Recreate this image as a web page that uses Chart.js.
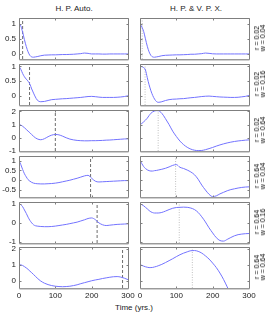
<!DOCTYPE html>
<html><head><meta charset="utf-8">
<script src="https://cdn.jsdelivr.net/npm/chart.js@4.4.1/dist/chart.umd.min.js"></script>
<style>
html,body{margin:0;padding:0;background:#fff;}
body{width:269px;height:314px;position:relative;overflow:hidden;font-family:'Liberation Sans',Arial,sans-serif;color:#222;}
.txt{position:absolute;font-size:8px;white-space:nowrap;line-height:1;color:#222;transform:translate(-50%,-50%);}
.side{position:absolute;font-size:7px;line-height:6px;white-space:pre;text-align:center;color:#000;transform:translate(-50%,-50%) rotate(-90deg);}
canvas{position:absolute;}
</style></head><body>
<div class="txt" style="left:74px;top:9px">H. P. Auto.</div>
<div class="txt" style="left:196px;top:9px">H. P. &amp; V. P. X.</div>
<div class="txt" style="left:134px;top:308px">Time (yrs.)</div>
<script>
// ---- data ----
const times = [0,5,10,15,20,25,30,35,40,45,50,60,70,80,90,100,110,120,130,140,150,160,170,180,190,200,210,220,230,240,250,260,270,280,290,300];

const autoR02W04 = [1.0,0.93,0.72,0.47,0.24,0.06,-0.06,-0.11,-0.12,-0.11,-0.1,-0.07,-0.05,-0.045,-0.04,-0.04,-0.035,-0.03,-0.03,-0.025,-0.02,-0.01,0.0,0.02,0.01,-0.01,-0.01,-0.01,-0.015,-0.015,-0.01,-0.01,-0.01,-0.01,-0.01,-0.01];
const autoR02W16 = [1.0,0.9,0.76,0.65,0.57,0.5,0.4,0.24,0.1,-0.03,-0.13,-0.19,-0.18,-0.15,-0.12,-0.11,-0.1,-0.09,-0.085,-0.075,-0.065,-0.055,-0.045,-0.03,-0.015,-0.01,-0.02,-0.035,-0.045,-0.045,-0.045,-0.045,-0.04,-0.03,-0.015,0.01];
const autoR02W64 = [1.0,0.96,0.87,0.76,0.63,0.5,0.38,0.24,0.11,0.0,-0.08,-0.15,-0.07,0.08,0.2,0.25,0.22,0.12,0.0,-0.1,-0.16,-0.2,-0.22,-0.23,-0.23,-0.22,-0.22,-0.21,-0.2,-0.18,-0.17,-0.15,-0.13,-0.11,-0.09,-0.08];
const autoR64W04 = [1.0,0.8,0.55,0.33,0.17,0.03,-0.05,-0.11,-0.15,-0.17,-0.18,-0.19,-0.19,-0.18,-0.17,-0.15,-0.12,-0.08,-0.04,0.0,0.05,0.1,0.16,0.22,0.25,0.1,-0.05,-0.09,-0.08,-0.07,-0.06,-0.05,-0.04,-0.03,-0.02,-0.02];
const autoR64W16 = [1.0,0.96,0.85,0.68,0.5,0.3,0.13,0.0,-0.1,-0.15,-0.17,-0.19,-0.2,-0.2,-0.19,-0.17,-0.14,-0.11,-0.08,-0.04,0.0,0.04,0.1,0.16,0.23,0.26,0.17,0.0,-0.1,-0.14,-0.12,-0.1,-0.08,-0.07,-0.06,-0.05];
const autoR64W64 = [1.0,0.99,0.95,0.88,0.8,0.71,0.6,0.5,0.39,0.28,0.17,-0.02,-0.15,-0.24,-0.3,-0.34,-0.36,-0.37,-0.36,-0.34,-0.3,-0.25,-0.18,-0.12,-0.06,0.0,0.05,0.09,0.14,0.18,0.22,0.25,0.26,0.23,0.16,0.07];

const xcorrR02W04 = [1.0,0.9,0.75,0.5,0.25,0.06,-0.06,-0.11,-0.12,-0.11,-0.1,-0.07,-0.055,-0.05,-0.045,-0.04,-0.04,-0.035,-0.03,-0.02,-0.02,-0.01,0.0,0.02,0.01,-0.005,-0.01,-0.01,-0.01,-0.01,-0.01,-0.01,-0.01,-0.01,-0.01,-0.01];
const xcorrR02W16 = [1.0,0.99,0.96,0.88,0.62,0.38,0.18,0.02,-0.1,-0.18,-0.21,-0.19,-0.15,-0.12,-0.105,-0.1,-0.09,-0.085,-0.07,-0.055,-0.045,-0.03,-0.015,-0.005,0.0,-0.01,-0.02,-0.03,-0.035,-0.04,-0.045,-0.045,-0.04,-0.025,-0.01,0.02];
const xcorrR02W64 = [1.0,1.08,1.2,1.33,1.48,1.68,1.85,1.96,2.02,2.05,2.05,1.85,1.45,1.0,0.5,0.1,-0.25,-0.52,-0.72,-0.86,-0.94,-0.97,-0.96,-0.9,-0.82,-0.73,-0.63,-0.54,-0.46,-0.39,-0.33,-0.28,-0.24,-0.21,-0.18,-0.16];
const xcorrR64W04 = [1.0,0.85,0.7,0.6,0.53,0.49,0.47,0.47,0.49,0.5,0.52,0.56,0.61,0.68,0.76,0.8,0.66,0.6,0.52,0.42,0.28,0.05,-0.25,-0.5,-0.72,-0.84,-0.8,-0.7,-0.62,-0.54,-0.48,-0.44,-0.4,-0.37,-0.35,-0.34];
const xcorrR64W16 = [1.0,0.96,0.9,0.82,0.74,0.65,0.58,0.54,0.52,0.52,0.52,0.55,0.62,0.7,0.77,0.81,0.82,0.83,0.82,0.78,0.7,0.55,0.32,0.05,-0.26,-0.53,-0.78,-0.93,-0.96,-0.87,-0.77,-0.68,-0.62,-0.59,-0.57,-0.56];
const xcorrR64W64 = [1.0,0.96,0.91,0.87,0.84,0.82,0.82,0.83,0.86,0.89,0.93,1.02,1.13,1.25,1.37,1.5,1.62,1.72,1.8,1.87,1.88,1.83,1.72,1.55,1.35,1.1,0.82,0.48,0.08,-0.38,-0.85,-1.3,-1.75,-2.2,-2.6,-3.0];

const autoMarkers = [10, 29, 100, 197, 215, 285];
const xcorrMarkers = [6, 14, 50, 98, 108, 144];

const rLabels = ['0.02','0.02','0.02','0.64','0.64','0.64'];
const wLabels = ['0.04','0.16','0.64','0.04','0.16','0.64'];

const yMin = [-0.18, -0.3, -1, -0.86, -1.06, -0.45];
const yMax = [1.2, 1.08, 2.1, 1.24, 1.1, 2.1];
const yTicks = [[0,0.5,1],[0,0.5,1],[-1,0,1,2],[-0.5,0,0.5,1],[-1,0,1],[0,1,2]];
const xTicksStep = 100;

// ---- layout ----
const autoSeries = [autoR02W04, autoR02W16, autoR02W64, autoR64W04, autoR64W16, autoR64W64];
const xcorrSeries = [xcorrR02W04, xcorrR02W16, xcorrR02W64, xcorrR64W04, xcorrR64W16, xcorrR64W64];
const plotTop = [18, 64, 110, 156, 202, 247];
const plotH = 41;

Chart.defaults.font.family = "'Liberation Sans', Arial, sans-serif";
Chart.defaults.font.size = 8;
Chart.defaults.color = '#222';

const framePlugin = {
  id: 'frame',
  afterDraw(chart) {
    const {ctx, chartArea: a, scales: {x, y}} = chart;
    const L = Math.round(a.left) + 0.5, R = Math.round(a.right) + 0.5;
    const T = Math.round(a.top) + 0.5, B = Math.round(a.bottom) + 0.5;
    ctx.save();
    ctx.lineWidth = 1;
    ctx.strokeStyle = '#7f7f7f';
    ctx.beginPath();
    x.ticks.forEach(t => {
      const px = Math.round(x.getPixelForValue(t.value)) + 0.5;
      ctx.moveTo(px, T); ctx.lineTo(px, T + 2);
      ctx.moveTo(px, B); ctx.lineTo(px, B - 2);
    });
    y.ticks.forEach(t => {
      const py = Math.round(y.getPixelForValue(t.value)) + 0.5;
      ctx.moveTo(L, py); ctx.lineTo(L + 2, py);
      ctx.moveTo(R, py); ctx.lineTo(R - 2, py);
    });
    ctx.stroke();
    ctx.beginPath();
    ctx.moveTo(L, B); ctx.lineTo(L, T); ctx.lineTo(R, T); ctx.lineTo(R, B);
    ctx.stroke();
    ctx.strokeStyle = '#9a9a9a';
    ctx.beginPath(); ctx.moveTo(L, B); ctx.lineTo(R, B); ctx.stroke();
    ctx.strokeStyle = '#d0d0d0';
    ctx.beginPath(); ctx.moveTo(L, B + 1); ctx.lineTo(R, B + 1); ctx.stroke();
    ctx.restore();
  }
};

function makePanel(r, c) {
  const bottomRow = r === 5;
  const padTop = 6;
  const xh = bottomRow ? 16 : 3;
  const W = c === 0 ? 136 : 128;
  const yw = c === 0 ? 19 : 10;
  const padRight = c === 0 ? 8 : 9;
  const left = c === 0 ? 0 : 130;
  const H = padTop + plotH + xh;
  const vals = c === 0 ? autoSeries[r] : xcorrSeries[r];
  const marker = c === 0 ? autoMarkers[r] : xcorrMarkers[r];

  const canvas = document.createElement('canvas');
  canvas.width = W; canvas.height = H;
  canvas.style.left = left + 'px';
  canvas.style.top = (plotTop[r] - padTop) + 'px';
  canvas.style.width = W + 'px'; canvas.style.height = H + 'px';
  document.body.appendChild(canvas);

  new Chart(canvas, {
    type: 'line',
    data: {
      datasets: [
        {
          data: times.map((t, i) => ({x: t, y: vals[i]})),
          borderColor: '#7373ff', borderWidth: 1, pointRadius: 0,
          cubicInterpolationMode: 'monotone'
        },
        {
          data: [{x: marker, y: yMin[r]}, {x: marker, y: yMax[r]}],
          borderColor: c === 0 ? '#6e6e6e' : '#c0c0c0',
          borderDash: c === 0 ? [3, 2] : [1, 1.5],
          borderWidth: 1, pointRadius: 0
        }
      ]
    },
    options: {
      responsive: false, animation: false, events: [],
      layout: {padding: {top: padTop, right: padRight, left: 0, bottom: 0}},
      plugins: {legend: {display: false}, tooltip: {enabled: false}},
      scales: {
        x: {
          type: 'linear', min: 0, max: 300,
          ticks: {stepSize: xTicksStep, display: bottomRow, padding: 3, maxRotation: 0, autoSkip: false, color: '#222'},
          grid: {display: false, drawTicks: false},
          border: {display: false},
          afterFit: s => { s.height = xh; s.paddingLeft = 0; s.paddingRight = 0; }
        },
        y: {
          type: 'linear', min: yMin[r], max: yMax[r],
          afterBuildTicks: s => { s.ticks = yTicks[r].map(v => ({value: v})); },
          ticks: {display: c === 0, padding: 3, autoSkip: false, color: '#222', callback: v => String(v)},
          grid: {display: false, drawTicks: false},
          border: {display: false},
          afterFit: s => { s.width = yw; s.paddingTop = 0; s.paddingBottom = 0; }
        }
      }
    },
    plugins: [framePlugin]
  });

  if (c === 1) {
    const d = document.createElement('div');
    d.className = 'side';
    d.style.left = '260px';
    d.style.top = (plotTop[r] + plotH / 2 - 1) + 'px';
    d.textContent = 'r = ' + rLabels[r] + '\nw = ' + wLabels[r];
    document.body.appendChild(d);
  }
}

for (let r = 0; r < 6; r++) { makePanel(r, 0); makePanel(r, 1); }
</script>
</body></html>
